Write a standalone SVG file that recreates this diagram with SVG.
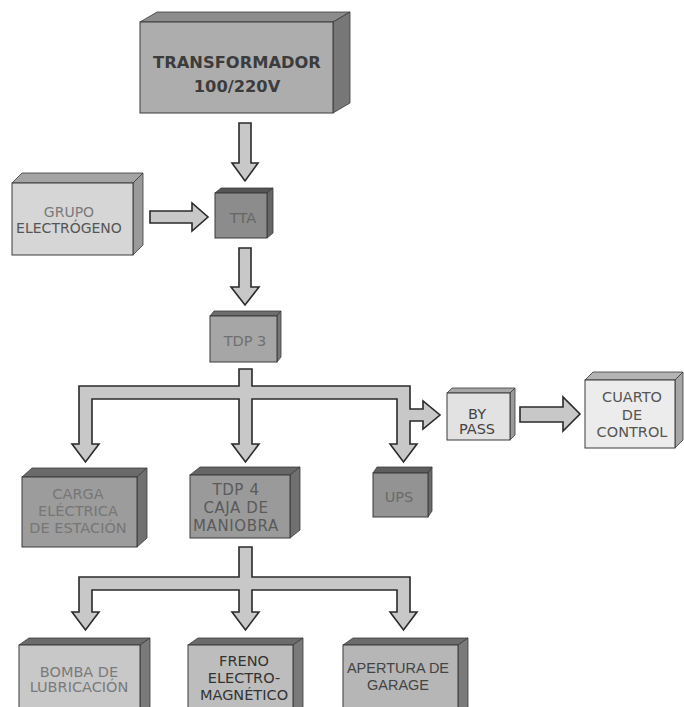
<svg xmlns="http://www.w3.org/2000/svg" width="684" height="707" viewBox="0 0 684 707">
<style>
.fr{stroke:#3a3a3a;stroke-width:1}
.tp{stroke:#3a3a3a;stroke-width:0.8}
.sd{stroke:#3a3a3a;stroke-width:0.8}
.arrow{fill:#c8c8c8;stroke:#2a2a2a;stroke-width:1.6;stroke-linejoin:miter}
text{font-family:"DejaVu Sans",Verdana,sans-serif;font-size:14.5px;text-anchor:middle}
text.big{font-size:16.3px;font-weight:bold}
text.mid{font-size:14px}
text.wide{font-size:15px;letter-spacing:0.6px}
text.ar{font-family:"Liberation Sans",Arial,sans-serif;font-size:14.5px}
</style>
<rect width="684" height="707" fill="#ffffff"/>
<g id="connectors">
<path class="arrow" d="M239,123 H251 V163 H258 L245,181 L232,163 H239 Z"/>
<path class="arrow" d="M150,211 H192 V203 L208,217 L192,231 V223 H150 Z"/>
<path class="arrow" d="M239,248 H251 V287 H259 L245,305 L231,287 H239 Z"/>
<path class="arrow" d="M239,369 H252 V386 H410 V409 H423 V401 L440,415 L423,429 V421 H410 V444 H417 L403.5,462 L390,444 H397 V399 H252 V444 H259 L245.5,462 L232,444 H239 V399 H92 V444 H99 L85.5,462 L72,444 H79 V386 H239 Z"/>
<path class="arrow" d="M520,407 H563 V397 L580,414 L563,431 V422 H520 Z"/>
<path class="arrow" d="M239,547 H252 V577 H410 V612 H417 L403.5,630 L390,612 H397 V590 H252 V612 H259 L245.5,630 L232,612 H239 V590 H92 V612 H99 L85.5,630 L72,612 H79 V577 H239 Z"/>
</g>
<g id="transformador">
<polygon class="tp" fill="#8c8c8c" points="140,22 157,12 350,12 333,22"/>
<polygon class="sd" fill="#777777" points="333,22 350,12 350,103 333,113"/>
<rect class="fr" fill="#adadad" x="140" y="22" width="193" height="91"/>
<text class="big" x="237" y="68" fill="#3c3c3c">TRANSFORMADOR</text>
<text class="big" x="237" y="92" fill="#3c3c3c">100/220V</text>
</g>
<g id="grupo">
<polygon class="tp" fill="#a4a4a4" points="12,183 22,173 143,173 133,183"/>
<polygon class="sd" fill="#9a9a9a" points="133,183 143,173 143,245 133,255"/>
<rect class="fr" fill="#d6d6d6" x="12" y="183" width="121" height="72"/>
<text class="mid" x="69" y="217" fill="#7a7a7a">GRUPO</text>
<text class="mid" x="69" y="233" fill="#555555">ELECTRÓGENO</text>
</g>
<g id="tta">
<polygon class="tp" fill="#555555" points="215,193 221,188 273,188 267,193"/>
<polygon class="sd" fill="#666666" points="267,193 273,188 273,233 267,238"/>
<rect class="fr" fill="#8c8c8c" x="215" y="193" width="52" height="45"/>
<text x="243" y="223" fill="#666666">TTA</text>
</g>
<g id="tdp3">
<polygon class="tp" fill="#6e6e6e" points="210,316 214,311 281,311 277,316"/>
<polygon class="sd" fill="#777777" points="277,316 281,311 281,357 277,362"/>
<rect class="fr" fill="#a6a6a6" x="210" y="316" width="67" height="46"/>
<text x="245" y="346" fill="#707070">TDP 3</text>
</g>
<g id="bypass">
<polygon class="tp" fill="#a8a8a8" points="447,393 452,388 515,388 510,393"/>
<polygon class="sd" fill="#9a9a9a" points="510,393 515,388 515,435 510,440"/>
<rect class="fr" fill="#e2e2e2" x="447" y="393" width="63" height="47"/>
<text x="477" y="419" fill="#444444">BY</text>
<text x="477" y="434" fill="#444444">PASS</text>
</g>
<g id="cuarto">
<polygon class="tp" fill="#b4b4b4" points="585,380 593,372 683,372 675,380"/>
<polygon class="sd" fill="#a6a6a6" points="675,380 683,372 683,440 675,448"/>
<rect class="fr" fill="#ececec" x="585" y="380" width="90" height="68"/>
<text x="632" y="402" fill="#555555">CUARTO</text>
<text x="632" y="420" fill="#555555">DE</text>
<text x="632" y="437" fill="#555555">CONTROL</text>
</g>
<g id="carga">
<polygon class="tp" fill="#6a6a6a" points="22,477 32,468 147,468 137,477"/>
<polygon class="sd" fill="#707070" points="137,477 147,468 147,538 137,547"/>
<rect class="fr" fill="#9c9c9c" x="22" y="477" width="115" height="70"/>
<text x="78" y="499" fill="#767676">CARGA</text>
<text x="78" y="516" fill="#767676">ELÉCTRICA</text>
<text x="78" y="533" fill="#767676">DE ESTACIÓN</text>
</g>
<g id="tdp4">
<polygon class="tp" fill="#666666" points="190,475 200,467 300,467 290,475"/>
<polygon class="sd" fill="#707070" points="290,475 300,467 300,530 290,538"/>
<rect class="fr" fill="#9a9a9a" x="190" y="475" width="100" height="63"/>
<text class="wide" x="236" y="495" fill="#5a5a5a">TDP 4</text>
<text class="wide" x="236" y="513" fill="#5a5a5a">CAJA DE</text>
<text class="wide" x="236" y="531" fill="#5a5a5a">MANIOBRA</text>
</g>
<g id="ups">
<polygon class="tp" fill="#5e5e5e" points="373,473 377,467 432,467 428,473"/>
<polygon class="sd" fill="#6a6a6a" points="428,473 432,467 432,511 428,517"/>
<rect class="fr" fill="#939393" x="373" y="473" width="55" height="44"/>
<text x="399" y="502" fill="#6a6a6a">UPS</text>
</g>
<g id="bomba">
<polygon class="tp" fill="#6c6c6c" points="19,645 29,638 150,638 140,645"/>
<polygon class="sd" fill="#7a7a7a" points="140,645 150,638 150,707 140,714"/>
<rect class="fr" fill="#c8c8c8" x="19" y="645" width="121" height="70"/>
<text x="79" y="677" fill="#7a7a7a">BOMBA DE</text>
<text x="79" y="692" fill="#7a7a7a">LUBRICACIÓN</text>
</g>
<g id="freno">
<polygon class="tp" fill="#6c6c6c" points="188,645 198,638 303,638 293,645"/>
<polygon class="sd" fill="#7a7a7a" points="293,645 303,638 303,707 293,714"/>
<rect class="fr" fill="#bdbdbd" x="188" y="645" width="105" height="70"/>
<text x="244" y="666" fill="#333333">FRENO</text>
<text x="244" y="683" fill="#333333">ELECTRO-</text>
<text x="244" y="700" fill="#333333">MAGNÉTICO</text>
</g>
<g id="apertura">
<polygon class="tp" fill="#6c6c6c" points="343,645 353,638 468,638 458,645"/>
<polygon class="sd" fill="#7a7a7a" points="458,645 468,638 468,707 458,714"/>
<rect class="fr" fill="#b6b6b6" x="343" y="645" width="115" height="70"/>
<text class="ar" x="398" y="673" fill="#444444">APERTURA DE</text>
<text class="ar" x="398" y="690" fill="#444444">GARAGE</text>
</g>
</svg>
